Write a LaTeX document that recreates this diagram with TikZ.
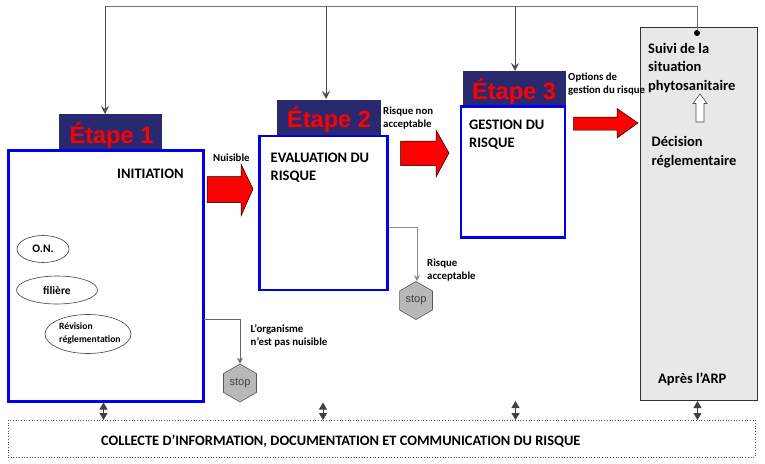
\documentclass[tikz,border=0pt]{standalone}
\usepackage{fontspec}
\setmainfont{Carlito}
\newfontfamily\arialf{Liberation Sans}
\usetikzlibrary{shapes.geometric,arrows.meta}
\definecolor{navy}{RGB}{41,41,112}
\definecolor{boxblue}{RGB}{0,0,235}
\definecolor{stopgray}{RGB}{184,184,184}
\definecolor{panel}{RGB}{232,232,232}
\tikzset{
 x=1pt,y=-1pt,
 header/.style={fill=navy,draw=none,minimum height=36pt,inner sep=0pt},
 steptitle/.style={text=red,inner sep=0pt,font=\arialf\bfseries\fontsize{23.6}{25}\selectfont},
 stage/.style={draw=boxblue,line width=2.4pt,fill=white,inner sep=0pt},
 lab/.style={font=\bfseries\fontsize{14.5}{18.5}\selectfont,align=left,inner sep=0pt,anchor=west,text=black},
 small/.style={font=\bfseries\fontsize{10.8}{13.2}\selectfont,align=left,inner sep=0pt,anchor=west,text=black},
 oval/.style={ellipse,draw=black!75,line width=.6pt,fill=white,inner sep=0pt},
 stopn/.style={regular polygon,regular polygon sides=6,draw=black!65,line width=.6pt,fill=stopgray,inner sep=0pt,minimum size=38pt,text=black!75,font=\arialf\fontsize{11}{12}\selectfont},
 feed/.style={draw=black!70,line width=.8pt,-{Stealth[length=8pt,width=8pt,inset=3pt]}},
 stopline/.style={line width=.9pt,-{Stealth[length=6pt,width=6pt]}},
 redarrow/.style={draw=black,line width=.5pt,fill=red},
 twoway/.style={draw=black!75,line width=1pt,{Stealth[length=7pt,width=8pt,inset=0pt]}-{Stealth[length=7pt,width=8pt,inset=0pt]}},
}
\begin{document}
\begin{tikzpicture}
\useasboundingbox (0,0) rectangle (765,463);
% boxes
\node[header,minimum width=103pt,minimum height=38pt] (h1) at (110.5,133) {};
\node[stage,minimum width=195pt,minimum height=251pt] (b1) at (106,276) {};
\node[header,minimum width=104pt] (h2) at (329,117.5) {};
\node[stage,minimum width=128pt,minimum height=154pt] (b2) at (323.5,213) {};
\node[header,minimum width=103pt] (h3) at (514.5,89) {};
\node[stage,minimum width=104pt,minimum height=131pt] (b3) at (513,172) {};
\node[draw=black!80,line width=1pt,fill=panel,minimum width=117pt,inner sep=0pt,minimum height=373pt] (p) at (698.5,213.5) {};
\node[draw=black!70,line width=.7pt,dotted,minimum width=747pt,minimum height=37pt,inner sep=0pt] (c) at (381.5,438.5) {};
% headings over the header strip
\node[steptitle] (t1) at (111.5,135) {Étape 1};
\node[steptitle] (t2) at (329,119) {Étape 2};
\node[steptitle] (t3) at (514,91.5) {Étape 3};
% top feedback
\coordinate (top0) at (105,6);
\coordinate (top1) at (697,6);
\coordinate (f2) at (326,6);
\coordinate (f3) at (515,6);
\coordinate (dot) at (697,33);
\coordinate (a1) at (105,114);
\coordinate (a2) at (326,99);
\coordinate (a3) at (515,71);
\draw[draw=black!55,line width=.8pt] (top0) -- (top1) -- (dot);
\fill[black] (dot) circle (3pt);
\draw[feed] (top0) -- (a1);
\draw[feed] (f2) -- (a2);
\draw[feed] (f3) -- (a3);
% red arrows
\draw[redarrow] (207,176.5) -- (241,176.5) -- (241,164) -- (253,189) -- (241,216) -- (241,202.5) -- (207,202.5) -- cycle;
\draw[redarrow] (400.5,141) -- (436,141) -- (436,130) -- (449,153) -- (436,177) -- (436,165.5) -- (400.5,165.5) -- cycle;
\draw[redarrow] (573.5,117) -- (617,117) -- (617,108.5) -- (638,123) -- (617,138) -- (617,130) -- (573.5,130) -- cycle;
% stops
\node[stopn,rotate=90] (s1) at (240,383) {\rotatebox{-90}{stop}};
\node[stopn,rotate=90] (s2) at (416,300.5) {\rotatebox{-90}{stop}};
\coordinate (o1) at (204,319.5);
\coordinate (k1) at (240,319.5);
\coordinate (o2) at (389,227);
\coordinate (k2) at (417,227);
\draw[stopline,draw=black!60] (o1) -- (k1) -| (s1.east);
\draw[stopline,draw=black!45] (o2) -- (k2) -- (k2 |- s2.east);
% double arrows
\coordinate (d1a) at (103.5,402.5); \coordinate (d1b) at (103.5,420);
\coordinate (d2a) at (323,402.5); \coordinate (d2b) at (323,420);
\coordinate (d3a) at (515.5,401); \coordinate (d3b) at (515.5,420);
\coordinate (d4a) at (697.5,401); \coordinate (d4b) at (697.5,420);
\draw[twoway] (d1a) -- (d1b);
\draw[twoway] (d2a) -- (d2b);
\draw[twoway] (d3a) -- (d3b);
\draw[twoway] (d4a) -- (d4b);
% white arrow
\draw[draw=black!70,line width=.6pt,fill=white] (696,122) -- (704,122) -- (704,103.5) -- (707,103.5) -- (700,94) -- (693,103.5) -- (696,103.5) -- cycle;
% ovals
\node[oval,minimum width=52pt,minimum height=27pt] (on) at (43,249) {};
\node[oval,minimum width=81pt,minimum height=28pt] (fil) at (57,290) {};
\node[oval,minimum width=86pt,minimum height=39pt] (rev) at (88,334) {};
\node[small,anchor=center,font=\bfseries\fontsize{11.5}{13}\selectfont] at (on.center) {O.N.};
\node[small,anchor=center,font=\bfseries\fontsize{11.5}{13}\selectfont] at (fil.center) {filière};
\node[small,font=\bfseries\fontsize{9.6}{12.4}\selectfont] at (59,333.5) {Révision\\réglementation};
% labels
\node[lab] at (117,173.5) {INITIATION};
\node[small] at (213,157.5) {Nuisible};
\node[lab] at (270.5,167.5) {EVALUATION DU\\RISQUE};
\node[small] at (383,118) {Risque non\\acceptable};
\node[lab] at (469,134.5) {GESTION DU\\RISQUE};
\node[small] at (568,84) {Options de\\gestion du risque};
\node[lab] at (648,68) {Suivi de la\\situation\\phytosanitaire};
\node[lab] at (651.5,152) {Décision\\réglementaire};
\node[lab] at (658,379.5) {Après l’ARP};
\node[small] at (427,270) {Risque\\acceptable};
\node[small] at (250.5,336) {L’organisme\\n’est pas nuisible};
\node[lab,font=\bfseries\fontsize{14.4}{17}\selectfont] at (101,441.5) {COLLECTE D’INFORMATION, DOCUMENTATION ET COMMUNICATION DU RISQUE};
\end{tikzpicture}
\end{document}
